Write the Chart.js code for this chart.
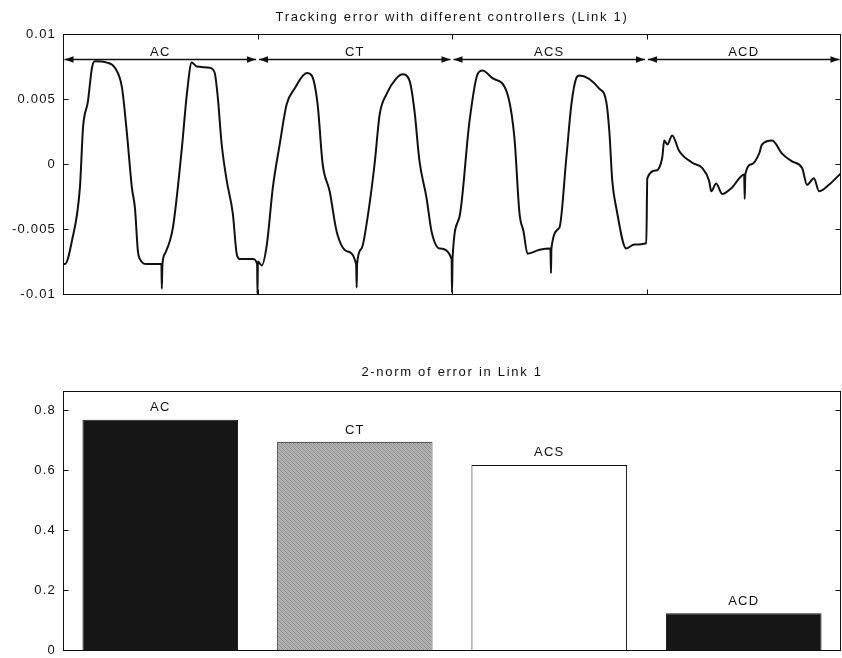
<!DOCTYPE html>
<html>
<head>
<meta charset="utf-8">
<script src="https://cdn.jsdelivr.net/npm/chart.js@4/dist/chart.umd.min.js"></script>
<style>
  html, body { margin: 0; padding: 0; background: #fff; overflow: hidden; }
  #wrap { position: relative; width: 842px; height: 658px; overflow: hidden; }
  canvas { position: absolute; left: 0; }
</style>
</head>
<body>
<div id="wrap">
  <canvas id="errChart" width="842" height="320" style="top:0"></canvas>
  <canvas id="normChart" width="842" height="335" style="top:330px"></canvas>
</div>
<script>
// ---- Tracking error of link 1, one block of time per controller ----
const acTime  = [0.00,0.10,0.46,0.87,1.03,1.28,1.49,1.64,2.26,2.67,3.03,3.29,3.54,3.70,3.85,3.95,4.31,5.06,5.08,5.11,5.24,5.65,6.11,6.37,6.62,6.88,7.55,7.80,7.96,8.16,8.42,8.73,8.93,9.09,9.76,9.98,10.00,10.02];
const acErr   = [-0.0077,-0.0077,-0.0059,-0.0018,0.0028,0.0048,0.0074,0.0079,0.0078,0.0074,0.0059,0.0023,-0.0018,-0.0034,-0.0067,-0.0073,-0.0077,-0.0077,-0.0096,-0.0078,-0.0069,-0.0049,0.0012,0.0054,0.0078,0.0075,0.0074,0.0070,0.0051,0.0015,-0.0013,-0.0038,-0.0069,-0.0073,-0.0073,-0.0077,-0.0100,-0.0075];
const ctTime  = [10.22,10.48,10.79,11.14,11.50,11.91,12.53,12.79,13.09,13.35,13.71,14.07,14.58,15.07,15.10,15.12,15.35,15.66,16.02,16.28,16.64,17.15,17.46,17.82,18.07,18.33,18.69,18.95,19.36,19.98,20.00,20.03];
const ctErr   = [-0.0078,-0.0062,-0.0018,0.0015,0.0046,0.0058,0.0070,0.0068,0.0046,0.0000,-0.0021,-0.0052,-0.0067,-0.0077,-0.0095,-0.0077,-0.0065,-0.0041,0.0000,0.0038,0.0054,0.0066,0.0069,0.0064,0.0041,0.0002,-0.0026,-0.0052,-0.0065,-0.0073,-0.0099,-0.0072];
const acsTime = [20.38,20.90,21.31,21.57,22.08,22.80,23.21,23.47,23.68,23.88,24.50,25.06,25.09,25.11,25.52,25.88,26.14,26.39,26.55,27.57,27.93,28.09,28.24,28.45,28.96,29.37,29.99,30.04];
const acsErr  = [-0.0041,0.0033,0.0069,0.0072,0.0066,0.0056,0.0020,-0.0038,-0.0052,-0.0069,-0.0066,-0.0065,-0.0084,-0.0065,-0.0049,0.0005,0.0046,0.0066,0.0068,0.0058,0.0048,0.0025,-0.0013,-0.0034,-0.0065,-0.0062,-0.0061,-0.0011];
const acdTime = [30.50,30.81,30.91,31.07,31.32,31.68,32.35,32.86,33.22,33.33,33.58,33.89,34.40,35.02,35.05,35.08,35.43,35.79,35.94,36.46,36.97,37.48,38.00,38.25,38.61,38.87,39.38,40.00];
const acdErr  = [-0.0005,0.0005,0.0018,0.0015,0.0022,0.0010,0.0001,-0.0003,-0.0013,-0.0021,-0.0015,-0.0023,-0.0018,-0.0008,-0.0027,-0.0008,0.0000,0.0008,0.0015,0.0018,0.0008,0.0002,-0.0003,-0.0016,-0.0011,-0.0021,-0.0016,-0.0007];

// Controller blocks along the time axis
const controllers = ['AC', 'CT', 'ACS', 'ACD'];
const segStart = [0, 10, 20, 30];
const segEnd   = [10, 20, 30, 40];
const arrowLevel = 0.008;

const errTicks = [-0.01, -0.005, 0, 0.005, 0.01];
const errTickLabels = ['-0.01', '-0.005', '0', '0.005', '0.01'];

// ---- 2-norm of the error per controller ----
const normValues = [0.767, 0.693, 0.617, 0.123];
const normTicks = [0, 0.2, 0.4, 0.6, 0.8];
const normTickLabels = ['0', '0.2', '0.4', '0.6', '0.8'];

const FONT = "'Liberation Sans', Arial, sans-serif";
const INK = '#111111';
Chart.defaults.font.family = FONT;
Chart.defaults.font.size = 13;
Chart.defaults.color = INK;
Chart.defaults.animation = false;

const time = [].concat(acTime, ctTime, acsTime, acdTime);
const trackErr = [].concat(acErr, ctErr, acsErr, acdErr);

// Box around the axes, inward tick marks and the axes title
const framePlugin = {
  id: 'frame',
  beforeDraw(chart) { chart.ctx.letterSpacing = '1.2px'; },
  afterDraw(chart, args, opts) {
    const { ctx, chartArea: a, scales } = chart;
    const L = 5;
    ctx.save();
    ctx.strokeStyle = INK;
    ctx.lineWidth = 1;
    const left = Math.round(a.left) + 0.5, right = Math.round(a.right) - 0.5;
    const top = Math.round(a.top) + 0.5, bottom = Math.round(a.bottom) + 0.5;
    ctx.strokeRect(left, top, right - left, bottom - top);
    ctx.beginPath();
    scales.y.ticks.forEach(t => {
      const py = Math.round(scales.y.getPixelForValue(t.value)) + 0.5;
      ctx.moveTo(left, py); ctx.lineTo(left + L, py);
      ctx.moveTo(right, py); ctx.lineTo(right - L, py);
    });
    (opts.xTicks || []).forEach(v => {
      const px = Math.round(scales.x.getPixelForValue(v)) + 0.5;
      ctx.moveTo(px, top); ctx.lineTo(px, top + L);
      ctx.moveTo(px, bottom); ctx.lineTo(px, bottom - L);
    });
    ctx.stroke();
    ctx.fillStyle = INK;
    ctx.font = '13px ' + FONT;
    ctx.letterSpacing = '1.7px';
    ctx.textAlign = 'center';
    ctx.textBaseline = 'middle';
    ctx.fillText(opts.title, (a.left + a.right) / 2, opts.titleY);
    ctx.restore();
  }
};

// Double-headed arrows marking each controller's time block
const segmentPlugin = {
  id: 'segments',
  afterDatasetsDraw(chart) {
    const { ctx, scales: { x, y } } = chart;
    const py = Math.round(y.getPixelForValue(arrowLevel)) - 0.5;
    ctx.save();
    ctx.strokeStyle = INK;
    ctx.fillStyle = INK;
    ctx.lineWidth = 1.6;
    ctx.font = '13px ' + FONT;
    ctx.letterSpacing = '1.2px';
    ctx.textAlign = 'center';
    ctx.textBaseline = 'alphabetic';
    controllers.forEach((name, i) => {
      const x0 = x.getPixelForValue(segStart[i]) + 1.5;
      const x1 = x.getPixelForValue(segEnd[i]) - 1.5;
      ctx.beginPath();
      ctx.moveTo(x0, py); ctx.lineTo(x1, py);
      ctx.stroke();
      ctx.beginPath();
      ctx.moveTo(x0, py); ctx.lineTo(x0 + 9, py - 3.2); ctx.lineTo(x0 + 9, py + 3.2); ctx.closePath();
      ctx.moveTo(x1, py); ctx.lineTo(x1 - 9, py - 3.2); ctx.lineTo(x1 - 9, py + 3.2); ctx.closePath();
      ctx.fill();
      ctx.fillText(name, (x0 + x1) / 2, py - 4);
    });
    ctx.restore();
  }
};

// Controller name above each bar
const barLabelPlugin = {
  id: 'barLabels',
  afterDatasetsDraw(chart) {
    const { ctx } = chart;
    const meta = chart.getDatasetMeta(0);
    ctx.save();
    ctx.fillStyle = INK;
    ctx.font = '13px ' + FONT;
    ctx.letterSpacing = '1.2px';
    ctx.textAlign = 'center';
    ctx.textBaseline = 'middle';
    meta.data.forEach((bar, i) => {
      ctx.fillText(chart.data.labels[i], bar.x, bar.y - 12);
    });
    ctx.restore();
  }
};

function fixedWidth(w) { return scale => { scale.width = w; }; }

new Chart(document.getElementById('errChart'), {
  type: 'line',
  data: {
    datasets: [{
      data: time.map((t, i) => ({ x: t, y: trackErr[i] })),
      borderColor: INK,
      borderWidth: 2,
      pointRadius: 0,
      cubicInterpolationMode: 'monotone',
      fill: false
    }]
  },
  options: {
    responsive: false,
    layout: { padding: { top: 34, bottom: 26, right: 1, left: 0 } },
    plugins: {
      legend: { display: false },
      tooltip: { enabled: false },
      frame: { title: 'Tracking error with different controllers (Link 1)', titleY: 17, xTicks: [10, 20, 30] }
    },
    scales: {
      x: { type: 'linear', min: 0, max: 40, display: false },
      y: {
        min: -0.01, max: 0.01,
        afterBuildTicks: s => { s.ticks = errTicks.map(v => ({ value: v })); },
        afterFit: fixedWidth(63),
        grid: { display: false, drawTicks: false },
        border: { display: false },
        ticks: { padding: 7, callback: (v, i) => errTickLabels[i] }
      }
    }
  },
  plugins: [framePlugin, segmentPlugin]
});

// Fine textured grey fill for the CT bar
function hatchPattern() {
  const c = document.createElement('canvas');
  c.width = 4; c.height = 4;
  const g = c.getContext('2d');
  g.fillStyle = '#bababa';
  g.fillRect(0, 0, 4, 4);
  g.fillStyle = '#888888';
  for (let i = 0; i < 4; i++) g.fillRect(i, i, 1, 1);
  g.fillStyle = '#a4a4a4';
  for (let i = 0; i < 4; i++) g.fillRect((i + 2) % 4, i, 1, 1);
  return g.createPattern(c, 'repeat');
}

new Chart(document.getElementById('normChart'), {
  type: 'bar',
  data: {
    labels: controllers,
    datasets: [{
      data: normValues,
      backgroundColor: ['#161616', hatchPattern(), '#ffffff', '#161616'],
      borderColor: ['#161616', '#555555', '#111111', '#161616'],
      borderWidth: 1,
      categoryPercentage: 1,
      barPercentage: 0.8
    }]
  },
  options: {
    responsive: false,
    layout: { padding: { top: 61, bottom: 1, right: 1, left: 0 } },
    plugins: {
      legend: { display: false },
      tooltip: { enabled: false },
      frame: { title: '2-norm of error in Link 1', titleY: 42, xTicks: [] }
    },
    scales: {
      x: { display: false },
      y: {
        min: 0, max: 0.863,
        afterBuildTicks: s => { s.ticks = normTicks.map(v => ({ value: v })); },
        afterFit: fixedWidth(63),
        grid: { display: false, drawTicks: false },
        border: { display: false },
        ticks: { padding: 7, callback: (v, i) => normTickLabels[i] }
      }
    }
  },
  plugins: [framePlugin, barLabelPlugin]
});
</script>
</body>
</html>
